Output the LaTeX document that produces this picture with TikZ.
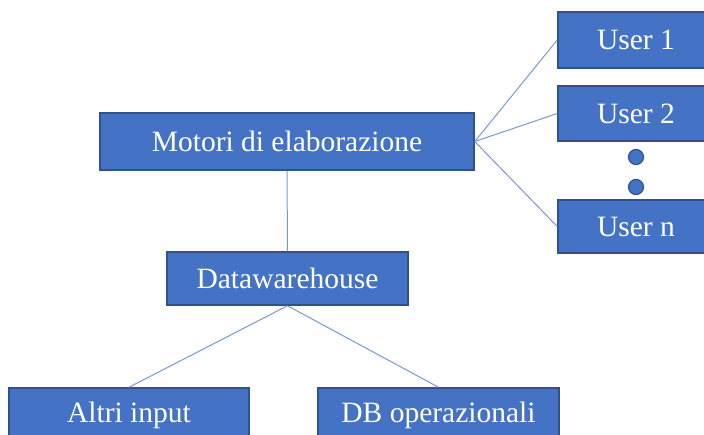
\documentclass[tikz,border=0pt]{standalone}
\usepackage{fontspec}
\setmainfont{Liberation Serif}
\usepackage{xcolor}
\usepackage{tikz}
\usetikzlibrary{positioning, calc}

\definecolor{boxfill}{HTML}{4472C4}
\definecolor{boxedge}{HTML}{2F528F}
\definecolor{linkcol}{RGB}{120,152,212}

\begin{document}
\begin{tikzpicture}[
    x=1pt, y=-1pt,
    every node/.style={font=\fontsize{29.5}{31}\selectfont},
    box/.style={draw=boxedge, fill=boxfill, line width=1.5pt, text=white, inner sep=0pt, minimum width=#1, minimum height=55pt},
    link/.style={draw=linkcol, line width=1pt},
    dot/.style={circle, draw=boxedge, fill=boxfill, line width=1.2pt, minimum size=15pt, inner sep=0pt},
  ]

  \clip (0,0) rectangle (704,434);
  \useasboundingbox (0,0) rectangle (704,434);

  % ---- Engine ----
  \node[box=374pt, minimum height=57pt] (motori) at (287,141.5) {Motori di elaborazione};

  % ---- Users ----
  \node[box=156pt, minimum height=56pt] (user1) at (636,40) {User 1};
  \node[box=156pt] (user2) at (636,113.5) {User 2};
  \node[dot] (dot1) at (636,157) {};
  \node[dot] (dot2) at (636,187) {};
  \node[box=156pt, minimum height=53pt] (usern) at (636,226.5) {User n};

  % ---- Data ----
  \node[box=241pt, minimum height=53pt] (dwh) at (287.5,278.5) {Datawarehouse};
  \node[box=240pt] (altri) at (129,415.5) {Altri input};
  \node[box=241pt] (dbop) at (438.5,415.5) {DB operazionali};

  % ---- Links ----
  \draw[link] (motori.east) -- (user1.west);
  \draw[link] (motori.east) -- (user2.west);
  \draw[link] (motori.east) -- (usern.west);
  \draw[link] (motori.south) -- (dwh.north);
  \draw[link] (dwh.south) -- (altri.north);
  \draw[link] (dwh.south) -- (dbop.north);

\end{tikzpicture}
\end{document}
